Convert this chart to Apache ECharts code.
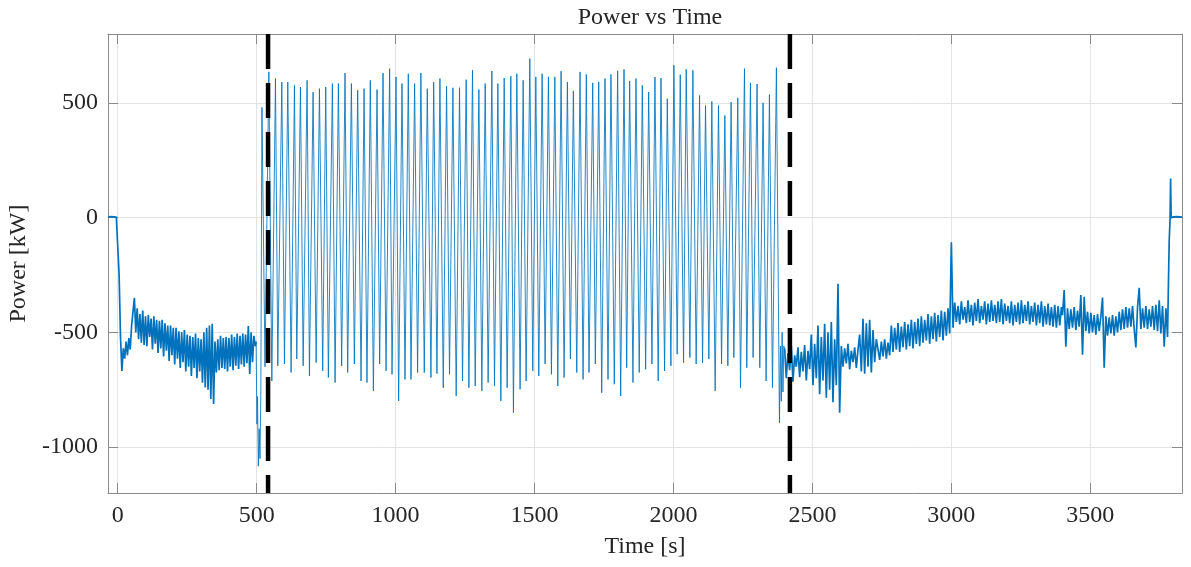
<!DOCTYPE html>
<html>
<head>
<meta charset="utf-8">
<script src="https://cdn.jsdelivr.net/npm/echarts@6/dist/echarts.min.js"></script>
<style>
html,body{margin:0;padding:0;background:#fff;}
#chart{width:1191px;height:567px;}
</style>
</head>
<body>
<div id="chart"></div>
<script>
// ---- Data ----
const titleText = 'Power vs Time';
const xName = 'Time [s]';
const yName = 'Power [kW]';
const xRange = [-35, 3830];
const yRange = [-1200, 800];
const phaseMarkers = [541, 2419];

// Pre-test segment: uniformly sampled, start -35 s, every 5 s
const preStart = -35, preStep = 5;
const preValues = [
  2,-3,4,-2,3,-4,2,-5,-250,
  -520,-668,-570,-615,-540,-600,-525,-575,-470,
  -410,-350,-500,-395,-530,-420,-545,-405,-555,-430,
  -560,-425,-520,-440,-575,-430,-550,-445,-590,-450,
  -570,-445,-605,-460,-580,-470,-625,-470,-600,-480,
  -640,-480,-615,-495,-655,-500,-630,-490,-670,-510,
  -650,-515,-690,-520,-655,-505,-700,-525,-670,-530,
  -720,-500,-740,-480,-750,-470,-790,-463,-812,-540,
  -675,-530,-665,-515,-655,-525,-660,-520,-670,-525,
  -650,-510,-665,-520,-645,-505,-660,-515,-640,-505,
  -650,-510,-635,-472,-681,-500,-630,-515,-560
];

// Oscillating test: [time s, power kW] at peaks and troughs
const oscillation = [
  [498,-540],[501,-900],[503,-780],[506,-1083],[509,-920],[512,-1050],[515,-760],[519,480],[530,-650],
  [543.8,635],[554.6,-712],[567.7,606],[576,-646],[590.5,591],[600,-638],[612,591],[624,-675],
  [636,576],[644.4,-616],[657.6,569],[667.3,-646],[681.5,598],[689.9,-690],[703,547],[714,-632],
  [725.9,562],[737.7,-668],[748.6,569],[758,-697],[772.5,584],[782.2,-719],[794.1,584],[805.9,-646],
  [818,630],[827.5,-675],[840.9,584],[851.6,-638],[863.5,555],[875.6,-712],[886.5,562],[897,-719],
  [909,598],[920,-755],[933.2,558],[942.6,-638],[954.7,630],[965.6,-668],[978.5,649],[987.1,-683],
  [1001.5,613],[1010.9,-799],[1023,584],[1033.8,-705],[1045.7,627],[1055.4,-705],[1068.4,584],[1079.1,-675],
  [1091,630],[1103.2,-675],[1114,562],[1127.2,-697],[1137,590],[1148.8,-680],[1159.5,606],[1171.5,-741],
  [1183.4,572],[1194,-683],[1206.3,566],[1218,-777],[1230,566],[1240.8,-712],[1254,601],[1263.7,-741],
  [1276.8,642],[1286.4,-734],[1299.7,558],[1310.4,-755],[1322.4,584],[1333,-719],[1346.4,639],[1355.8,-734],
  [1368,584],[1378.7,-799],[1390.8,608],[1401.4,-741],[1414.7,616],[1424,-850],[1436.3,627],[1448,-748],
  [1459,598],[1469.6,-712],[1483,693],[1493.7,-668],[1504.6,613],[1515.3,-690],[1527.3,627],[1538,-638],
  [1550,613],[1560.7,-683],[1573,613],[1583.6,-734],[1595.6,638],[1606.3,-697],[1618.2,591],[1629,-616],
  [1639.7,552],[1651.9,-675],[1663.7,635],[1674.6,-705],[1686.4,624],[1696,-675],[1709.3,587],[1718.8,-638],
  [1730.9,591],[1741.7,-763],[1753.6,606],[1764.4,-705],[1775,624],[1787,-726],[1799,640],[1810,-777],
  [1822,646],[1831.5,-654],[1842.3,595],[1854.2,-719],[1865,606],[1876.8,-675],[1887.8,576],[1899.8,-661],
  [1910.7,547],[1922.5,-638],[1933.3,613],[1945,-712],[1955,608],[1968,-668],[1977.7,518],[1990.7,-646],
  [2001.5,664],[2013.3,-595],[2024.3,623],[2036.3,-632],[2045.8,646],[2059,-610],[2069.8,642],[2081.6,-638],
  [2093.8,532],[2104.6,-632],[2115.3,488],[2127.3,-616],[2138,506],[2150,-755],[2162,488],[2173,-638],
  [2184.8,445],[2195.6,-646],[2207.4,503],[2217.2,-610],[2231.4,522],[2241.2,-741],[2255.5,649],[2263.8,-654],
  [2277,587],[2286.5,-610],[2300.8,582],[2310.6,-654],[2322.4,500],[2333.3,-712],[2345.3,536],[2356.2,-741],
  [2370.4,653],[2381.3,-894],[2385,-560],[2388,-800],[2391,-500],[2394,-760],[2397,-560]
];

// Post-test segments: uniformly sampled every 6 s
const postStep = 6;
const postAStart = 2400;
const postAValues = [
  -570,-700,-590,-665,-560,-715,-600,-650,-565,-695,-585,-670,-555,-710,-580,-660,
  -510,-730,-550,-700,-470,-770,-520,-710,-463,-785,-500,-750,-455,-805,-530,-730,
  -288,-850,
  -560,-650,-570,-635,-550,-660,-580,-630,-565,-655,-575,
  -510,-670,-441,-680,-460,-650,-445,-675,-490,-630,-530,
  -535,-620,-540,-605,-530,-615,-545,-600,
  -470,-585,-480,-575,-460,-585,-475,-565,-455,-575,
  -465,-560,-445,-570,-455,-550,-440,-560,-430,-545,
  -445,-535,-420,-550,-430,-530,-415,-540,-425,-520,
  -405,-535,-410,-515,-395,-505
];
const postBStart = 3000;
const postBValues = [
  -108,-480,
  -370,-455,-385,-465,-365,-445,-390,-460,-360,-455,
  -380,-470,-370,-450,-355,-460,-385,-445,-365,-465,
  -375,-455,-360,-450,-380,-460,-365,-455,-355,-465,
  -375,-450,-385,-460,-365,-470,-380,-455,-370,-465,
  -360,-460,-380,-450,-365,-465,-385,-455,-370,-470,
  -380,-460,-365,-475,-385,-465,-375,-470,-390,-475,
  -380,-480,-385,-470,-390
];
const postCStart = 3400;
const postCValues = [
  -425,-316,-563,-395,-485,-400,-480,-390,-490,-405,-475,-337,-598,-345,-495,-410,
  -505,-415,-500,-425,-510,-420,-495,-430,-348,-654,-430,-515,-435,-505,-425,-515,
  -430,-500,-410,-490,-400,-485,-390,-480,-395,-475,-385,-485,-566,-390,-306,-485,
  -395,-480,-385,-485,-400,-475,-385,-490,-380,-495,-360,-505,-385,-563,-395,-520
];
// Shut-down tail: [time s, power kW]
const tail = [
  [3781,-300],[3784,-100],[3787,-10],[3789,170],[3791,0],[3795,-4],[3800,3],[3805,-3],
  [3810,4],[3815,-2],[3820,3],[3825,-3],[3830,2]
];

// ---- Build the series ----
const prePoints = preValues.map((v, i) => [preStart + i * preStep, v]);
prePoints.push(oscillation[0]);
const oscPoints = oscillation.slice();
oscPoints.push([postAStart, postAValues[0]]);
const postPoints = [];
postAValues.forEach((v, i) => postPoints.push([postAStart + i * postStep, v]));
postBValues.forEach((v, i) => postPoints.push([postBStart + i * postStep, v]));
postCValues.forEach((v, i) => postPoints.push([postCStart + i * postStep, v]));
tail.forEach(p => postPoints.push(p));

const FONT = 'Liberation Serif';
const TXT = '#262626';
const BOX = '#8a8a8a';
const GRIDC = '#e3e3e3';
const BLUE = '#0072BD';

function lineSeries(data, width) {
  return { type: 'line', data: data, showSymbol: false, symbol: 'none',
    lineStyle: { color: BLUE, width: width }, z: 2, animation: false };
}
const series = [lineSeries(prePoints, 1.7), lineSeries(oscPoints, 0.85), lineSeries(postPoints, 1.7)];
phaseMarkers.forEach(x => series.push({
  type: 'line', data: [[x, yRange[1]], [x, yRange[0]]], showSymbol: false, symbol: 'none',
  lineStyle: { color: '#000', width: 4.5, type: [35, 14] }, z: 3, animation: false
}));

const fmt = v => String(v);
const chart = echarts.init(document.getElementById('chart'), null, { renderer: 'canvas' });
chart.setOption({
  animation: false,
  backgroundColor: '#fff',
  title: {
    text: titleText, left: 645, top: 1, textAlign: 'center',
    textStyle: { fontFamily: FONT, fontSize: 24, fontWeight: 'normal', color: TXT }
  },
  grid: { left: 108, right: 9, top: 34, bottom: 74, containLabel: false, outerBoundsMode: 'none' },
  xAxis: [{
    type: 'value', min: xRange[0], max: xRange[1], splitNumber: 8, position: 'bottom',
    name: xName, nameLocation: 'middle', nameGap: 42,
    nameTextStyle: { fontFamily: FONT, fontSize: 24, color: TXT },
    axisLine: { show: true, onZero: false, lineStyle: { color: BOX, width: 1 } },
    axisTick: { show: true, inside: true, length: 10, lineStyle: { color: BOX } },
    axisLabel: { showMinLabel: false, showMaxLabel: false, margin: 11, formatter: fmt, fontFamily: FONT, fontSize: 24, color: TXT },
    splitLine: { show: true, lineStyle: { color: GRIDC, width: 1 } }
  }, {
    type: 'value', min: xRange[0], max: xRange[1], splitNumber: 8, position: 'top',
    axisLine: { show: true, onZero: false, lineStyle: { color: BOX, width: 1 } },
    axisTick: { show: true, inside: true, length: 10, lineStyle: { color: BOX } },
    axisLabel: { show: false }, splitLine: { show: false }
  }],
  yAxis: [{
    type: 'value', min: yRange[0], max: yRange[1], splitNumber: 4, position: 'left',
    name: yName, nameLocation: 'middle', nameGap: 68, nameRotate: 90,
    nameTextStyle: { fontFamily: FONT, fontSize: 24, color: TXT },
    axisLine: { show: true, onZero: false, lineStyle: { color: BOX, width: 1 } },
    axisTick: { show: true, inside: true, length: 10, lineStyle: { color: BOX } },
    axisLabel: { showMinLabel: false, showMaxLabel: false, margin: 10, formatter: fmt, fontFamily: FONT, fontSize: 24, color: TXT },
    splitLine: { show: true, lineStyle: { color: GRIDC, width: 1 } }
  }, {
    type: 'value', min: yRange[0], max: yRange[1], splitNumber: 4, position: 'right',
    axisLine: { show: true, onZero: false, lineStyle: { color: BOX, width: 1 } },
    axisTick: { show: true, inside: true, length: 10, lineStyle: { color: BOX } },
    axisLabel: { show: false }, splitLine: { show: false }
  }],
  series: series
});
</script>
</body>
</html>
